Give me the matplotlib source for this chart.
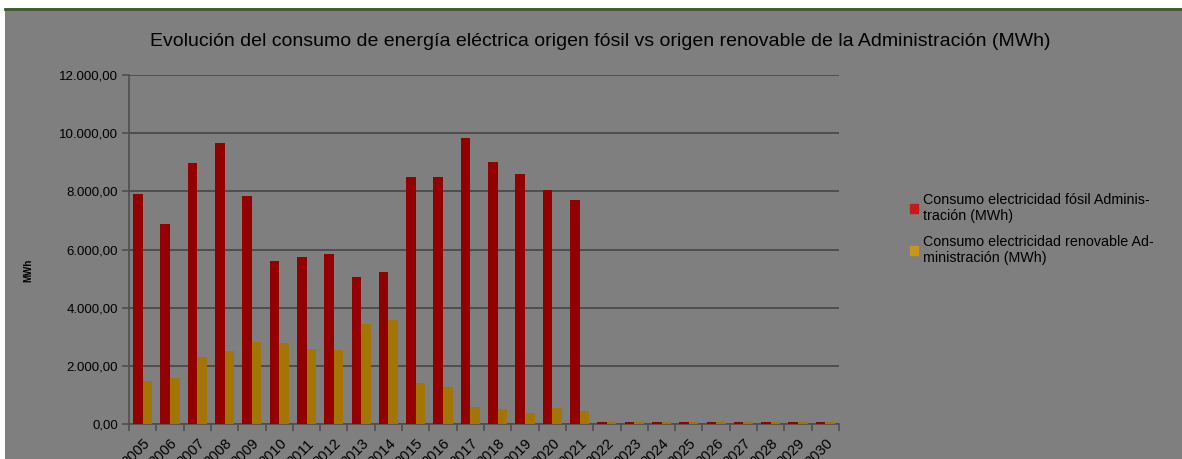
import numpy as np
import matplotlib.pyplot as plt
from matplotlib.patches import Rectangle, Patch
from matplotlib.lines import Line2D
from matplotlib.ticker import FuncFormatter

plt.rcParams['font.family'] = ['Liberation Sans', 'DejaVu Sans']

years = [str(y) for y in range(2005, 2031)]
fosil = [7900, 6870, 8970, 9670, 7840, 5600, 5730, 5830, 5070, 5230,
         8500, 8510, 9820, 9010, 8580, 8030, 7700,
         60, 60, 60, 60, 60, 60, 60, 60, 60]
renovable = [1480, 1570, 2290, 2510, 2830, 2800, 2590, 2530, 3430, 3580,
             1420, 1270, 585, 505, 370, 540, 460,
             60, 60, 60, 60, 60, 60, 60, 60, 60]
labels = ["Consumo electricidad fósil Adminis-\ntración (MWh)",
          "Consumo electricidad renovable Ad-\nministración (MWh)"]

bg = '#7f7f7f'
fig = plt.figure(figsize=(11.82, 4.59), dpi=100, facecolor=bg)

# white frame strips and green rule at the top
fig.patches.append(Rectangle((0, 1 - 8 / 459), 1, 8 / 459, transform=fig.transFigure,
                             facecolor='white', edgecolor='none', zorder=0))
fig.patches.append(Rectangle((0, 0), 5 / 1182, 1, transform=fig.transFigure,
                             facecolor='white', edgecolor='none', zorder=0))
fig.add_artist(Line2D([5 / 1182, 1], [1 - 9 / 459, 1 - 9 / 459], transform=fig.transFigure,
                      color='#3f5a2a', lw=2))

ax = fig.add_axes([129 / 1182, 1 - 424 / 459, 710 / 1182, 349 / 459])
ax.set_facecolor(bg)

x = np.arange(len(years))
w = 0.35
ax.bar(x - w / 2, fosil, w, color='#920000', zorder=3)
ax.bar(x + w / 2, renovable, w, color='#a27504', zorder=3)

ax.set_xlim(-0.5, len(years) - 0.5)
ax.set_ylim(0, 12000)
ax.set_yticks(np.arange(0, 12001, 2000))
ax.yaxis.set_major_formatter(FuncFormatter(
    lambda v, p: f"{v:,.2f}".replace(",", "X").replace(".", ",").replace("X", ".")))
ax.yaxis.grid(True, color='#4e4e4e', lw=1.4, zorder=1)

ax.set_xticks(x)
ax.set_xticklabels(years, rotation=45, ha='right', rotation_mode='anchor', fontsize=10.5)
ax.set_xticks(np.arange(-0.5, len(years), 1), minor=True)
ax.tick_params(axis='x', which='major', length=0, pad=9)
ax.tick_params(axis='x', which='minor', length=5, color='#4e4e4e', width=1.2)
ax.tick_params(axis='y', length=5, color='#4e4e4e', width=1.2, labelsize=9.5, pad=3)

for s in ['top', 'right']:
    ax.spines[s].set_visible(False)
ax.spines['left'].set_color('#4e4e4e')
ax.spines['left'].set_linewidth(1.2)
ax.spines['bottom'].set_color('#4e4e4e')
ax.spines['bottom'].set_linewidth(1.2)

ax.set_ylabel('MWh', fontsize=7, fontweight='bold')
ax.yaxis.set_label_coords(-0.135, 0.44)

fig.text(0.508, 1 - 42 / 459,
         'Evolución del consumo de energía eléctrica origen fósil vs origen renovable de la Administración (MWh)',
         ha='center', va='center', fontsize=14)

handles = [Patch(color='#c41a1a'), Patch(color='#c8961a')]
fig.legend(handles, labels, loc='center left', bbox_to_anchor=(897 / 1182, 1 - 229 / 459),
           frameon=False, fontsize=10.3, handlelength=0.6, handleheight=0.6,
           handletextpad=0.35, labelspacing=0.85)

fig.savefig('out.png', dpi=100, facecolor=bg)
